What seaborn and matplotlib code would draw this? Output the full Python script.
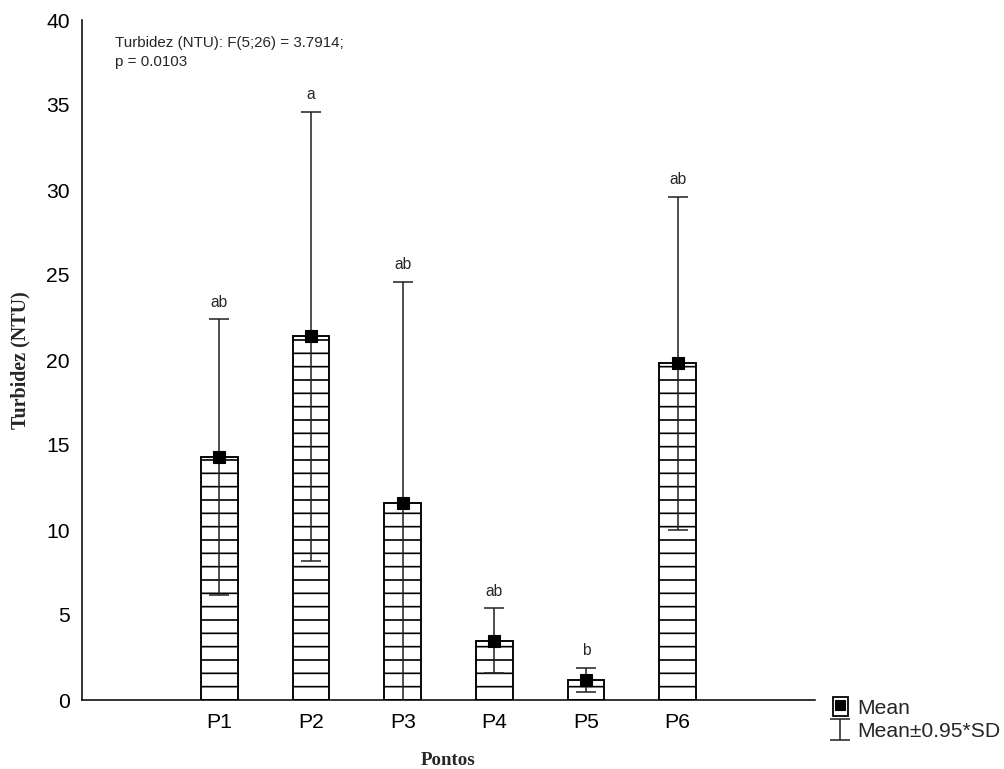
import numpy as np
import pandas as pd
import seaborn as sns
import matplotlib.pyplot as plt
from matplotlib.patches import Rectangle
from matplotlib.lines import Line2D
from matplotlib.legend_handler import HandlerTuple

# values
pontos = ["P1", "P2", "P3", "P4", "P5", "P6"]
means = [14.3, 21.4, 11.6, 3.5, 1.2, 19.8]
upper = [22.4, 34.6, 24.6, 5.4, 1.9, 29.6]
letters = ["ab", "a", "ab", "ab", "b", "ab"]

df = pd.DataFrame({"Pontos": pontos, "Turbidez": means})
half = np.array(upper) - np.array(means)  # 0.95*SD
order = [" "] + pontos + ["  "]

sns.set_theme(style="white")
plt.rcParams['font.family'] = ['Liberation Sans', 'DejaVu Sans']
plt.rcParams['hatch.linewidth'] = 1.5

fig = plt.figure(figsize=(1004 / 80, 769 / 80), dpi=80)
ax = fig.add_axes([82 / 1004, 1 - 700 / 769, (815 - 82) / 1004, 680 / 769])

sns.barplot(data=df, x="Pontos", y="Turbidez", order=order, color="white",
            edgecolor="black", linewidth=1.7, width=0.4, hatch="-", ax=ax)

xpos = np.array([order.index(p) for p in pontos])
eb = ax.errorbar(xpos, means, yerr=half, fmt="none", ecolor="#222222",
                 elinewidth=1.4, capsize=9, capthick=1.4, zorder=3)
ax.plot(xpos, means, "s", color="black", ms=11, zorder=4)

for x, u, t in zip(xpos, upper, letters):
    ax.text(x, u + 0.55, t, ha="center", va="bottom", fontsize=14)

ax.set_ylim(0, 40)
ax.set_xlim(-0.5, 7.5)
ax.set_yticks(range(0, 41, 5))
ax.tick_params(direction="in", length=7, width=1.2, labelsize=19, colors="black")
ax.tick_params(axis="x", pad=12)
ax.tick_params(axis="y", pad=11)
sns.despine(ax=ax)
for s in ["left", "bottom"]:
    ax.spines[s].set_color("black")
    ax.spines[s].set_linewidth(1.4)

ax.set_xlabel("Pontos", family="Liberation Serif", fontweight="bold", fontsize=17, labelpad=18)
ax.set_ylabel("Turbidez (NTU)", family="Liberation Serif", fontweight="bold", fontsize=18, labelpad=14)

ax.text(0.045, 0.976, "Turbidez (NTU): F(5;26) = 3.7914;\np = 0.0103",
        transform=ax.transAxes, ha="left", va="top", fontsize=13.6, linespacing=1.45)

box = Rectangle((0, 0), 1, 1, facecolor="white", edgecolor="black", linewidth=1.6)
sq = Line2D([], [], marker="s", color="black", ls="none", ms=9)
fig.legend([(box, sq), eb], ["Mean", "Mean±0.95*SD"],
           handler_map={tuple: HandlerTuple(ndivide=1)},
           loc="lower left", bbox_to_anchor=(822 / 1004, 17 / 769),
           frameon=False, fontsize=19, handlelength=0.75, handleheight=1.0,
           handletextpad=0.4, labelspacing=0.15, borderpad=0)

fig.savefig("out.png", dpi=80)
